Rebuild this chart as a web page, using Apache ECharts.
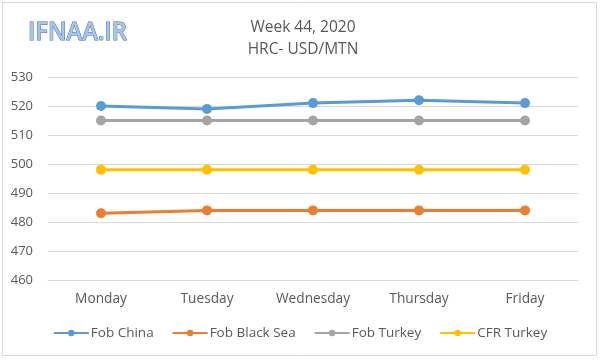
<!DOCTYPE html>
<html><head><meta charset="utf-8">
<script src="https://cdn.jsdelivr.net/npm/echarts@6/dist/echarts.min.js"></script>
<style>html,body{margin:0;padding:0;background:#fff}#c{width:600px;height:360px}</style>
</head><body><div id="c"></div>
<script>
const categories = ['Monday','Tuesday','Wednesday','Thursday','Friday'];
const fobChina = [520, 519, 521, 522, 521];
const fobBlackSea = [483, 484, 484, 484, 484];
const fobTurkey = [515, 515, 515, 515, 515];
const cfrTurkey = [498, 498, 498, 498, 498];
const yTicks = {min: 460, max: 530, interval: 10};

const chart = echarts.init(document.getElementById('c'));
const font = '"Open Sans", sans-serif';
function s(name, data, color){
  return {name, type:'line', data, symbol:'circle', symbolSize:10, showSymbol:true,
    lineStyle:{color, width:3}, itemStyle:{color}, emphasis:{disabled:true}};
}
chart.setOption({
  animation:false,
  graphic:[
    {type:'rect', shape:{x:2.5,y:2.5,width:594,height:353}, style:{fill:'none', stroke:'#d9d9d9', lineWidth:1}},
    {type:'text', x:28, y:20, scaleX:0.95, style:{text:'IFNAA.IR', fill:'#a9c4ea', stroke:'#3f6fb8', lineWidth:1, font:'600 25px "Open Sans", sans-serif',
      shadowColor:'rgba(60,90,150,0.35)', shadowBlur:2, shadowOffsetX:1, shadowOffsetY:1}}
  ],
  title:{text:'Week 44, 2020\nHRC- USD/MTN', left:298, textAlign:'center', top:12,
    textStyle:{color:'#595959', fontSize:15.5, fontWeight:'normal', fontFamily:font, lineHeight:22}},
  legend:{top:321, left:'center', itemGap:18, itemWidth:35, itemHeight:8,
    textStyle:{color:'#595959', fontSize:13.5, fontFamily:font, padding:[0,0,0,-3]},
    data:['Fob China','Fob Black Sea','Fob Turkey','CFR Turkey']},
  grid:{left:48, right:22, top:77, bottom:80},
  xAxis:{type:'category', data:categories, boundaryGap:true,
    axisLine:{lineStyle:{color:'#d9d9d9'}}, axisTick:{show:false},
    axisLabel:{color:'#595959', fontSize:13.7, fontFamily:font, margin:12}},
  yAxis:{type:'value', min:yTicks.min, max:yTicks.max, interval:yTicks.interval,
    axisLine:{show:false}, axisTick:{show:false},
    splitLine:{lineStyle:{color:'#d9d9d9'}},
    axisLabel:{color:'#595959', fontSize:13, fontFamily:font, margin:15}},
  series:[
    s('Fob China', fobChina, '#5b9bd5'),
    s('Fob Black Sea', fobBlackSea, '#ed7d31'),
    s('Fob Turkey', fobTurkey, '#a5a5a5'),
    s('CFR Turkey', cfrTurkey, '#ffc000')
  ]
});
</script></body></html>
